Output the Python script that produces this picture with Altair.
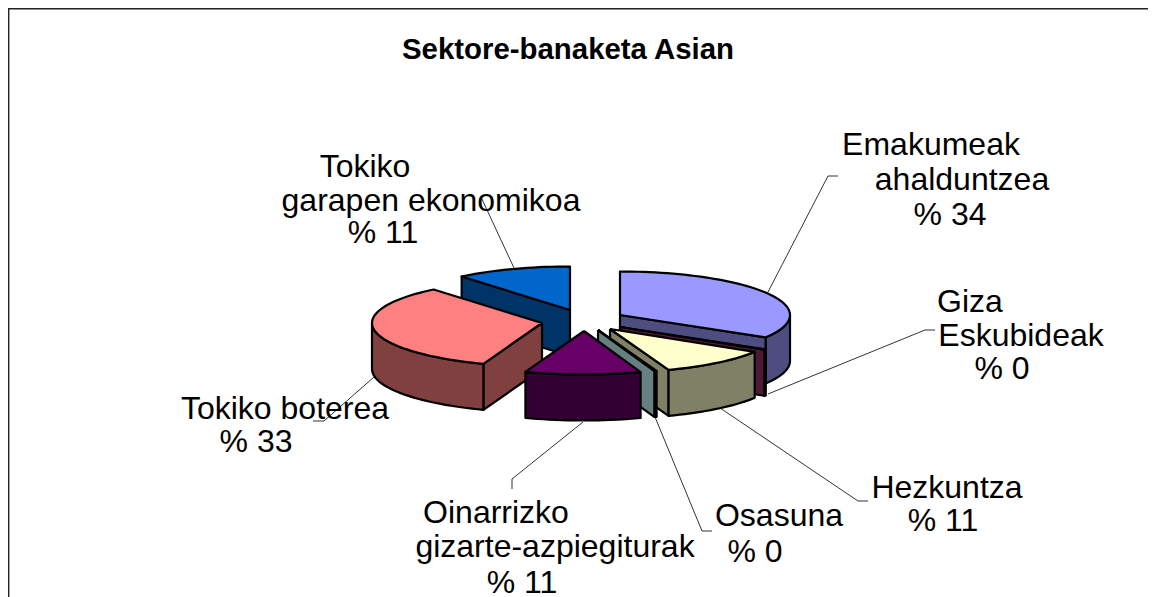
import math
import altair as alt
import pandas as pd

# ---- chart values (share of each sector, drawn clockwise from 12 o'clock, back-to-front order below)
sectors = ["Emakumeak ahalduntzea", "Giza Eskubideak", "Hezkuntza", "Osasuna",
           "Oinarrizko gizarte-azpiegiturak", "Tokiko boterea", "Tokiko garapen ekonomikoa"]
shares = [33.6, 0.2, 10.6, 0.2, 11.0, 33.4, 11.0]
top_colors = ["#9999FF", "#993366", "#FFFFCC", "#CCFFFF", "#660066", "#FF8080", "#0066CC"]
side_colors = ["#4D4D80", "#4D1933", "#808066", "#668080", "#330033", "#804040", "#003366"]

# ---- label texts
label_lines = ["Tokiko", "garapen ekonomikoa", "% 11",
               "Emakumeak", "ahalduntzea", "% 34",
               "Giza", "Eskubideak", "% 0",
               "Hezkuntza", "% 11",
               "Osasuna", "% 0",
               "Oinarrizko", "gizarte-azpiegiturak", "% 11",
               "Tokiko boterea", "% 33"]
label_x = [365, 431, 383, 931, 962, 950, 970, 1021, 1002, 947, 943, 779, 755, 496, 555, 522, 285, 256]
label_y = [177, 211, 243, 155, 190, 225, 312, 346, 379, 498, 531, 526, 562, 523, 557, 593, 419, 452]

title_text = "Sektore-banaketa Asian"

# ---- layout of the exploded pseudo-3D pie (centre of each exploded slice, ellipse radii, wall depth)
apex = [(620, 315), (620, 327), (610, 329), (598, 330), (584, 331), (542, 323), (570, 310)]
RX, RY, DEPTH = 170, 43.5, 46
draw_order = [6, 5, 0, 1, 2, 3, 4]

leaders = [
    [(514, 268), (481, 197)],
    [(768, 292), (828, 176), (838, 176)],
    [(768, 394), (925, 330), (935, 330)],
    [(720, 408), (858, 501), (868, 501)],
    [(655, 417), (702, 531), (712, 531)],
    [(583, 422), (512, 479), (512, 489)],
    [(374, 377), (324, 421), (313, 421)],
]
borders = [[(8, 8.5), (1148, 8.5)], [(8.5, 8), (8.5, 597)]]

XS = alt.Scale(domain=[8, 1148], nice=False, zero=False)
YS = alt.Scale(domain=[8, 597], reverse=True, nice=False, zero=False)


def enc(chart):
    return chart.encode(
        x=alt.X("x:Q", scale=XS, axis=None),
        y=alt.Y("y:Q", scale=YS, axis=None),
        order=alt.Order("i:Q"),
    )


def polyline(points, **mark):
    df = pd.DataFrame({"x": [p[0] for p in points], "y": [p[1] for p in points],
                       "i": list(range(len(points)))})
    return enc(alt.Chart(df).mark_line(**mark))


def rim(cx, cy, deg):
    r = math.radians(deg)
    return (cx + RX * math.sin(r), cy - RY * math.cos(r))


def arc_points(cx, cy, a0, a1, step=2.0):
    n = max(1, int(abs(a1 - a0) / step))
    return [rim(cx, cy, a0 + (a1 - a0) * k / n) for k in range(n + 1)]


def down(points):
    return [(x, y + DEPTH) for x, y in points]


def face(points, color):
    closed = points + [points[0]]
    return polyline(closed, fill=color, stroke="black", strokeWidth=2.2,
                    strokeJoin="round", interpolate="linear")


angles = []
acc = 0.0
total = sum(shares)
for s in shares:
    angles.append((acc, acc + s / total * 360))
    acc += s / total * 360

layers = []
for seg in borders:
    layers.append(polyline(seg, stroke="#222222", strokeWidth=1.8))
for seg in leaders:
    layers.append(polyline(seg, stroke="#333333", strokeWidth=1))

for idx in draw_order:
    cx, cy = apex[idx]
    a0, a1 = angles[idx]
    side = side_colors[idx]
    if 0 < a1 < 180:  # clockwise wall faces the viewer
        wall = [(cx, cy), rim(cx, cy, a1)]
        layers.append(face(wall + down(wall)[::-1], side))
    if 180 < a0 < 360:  # counter-clockwise wall faces the viewer
        wall = [(cx, cy), rim(cx, cy, a0)]
        layers.append(face(wall + down(wall)[::-1], side))
    lo, hi = max(a0, 90), min(a1, 270)
    if lo < hi:
        pts = arc_points(cx, cy, lo, hi)
        layers.append(face(pts + down(pts)[::-1], side))
    layers.append(face([(cx, cy)] + arc_points(cx, cy, a0, a1), top_colors[idx]))

labels = pd.DataFrame({"x": label_x, "y": label_y, "t": label_lines})
layers.append(
    alt.Chart(labels).mark_text(font="Liberation Sans", fontSize=32, align="center",
                                baseline="alphabetic", color="black")
    .encode(x=alt.X("x:Q", scale=XS, axis=None), y=alt.Y("y:Q", scale=YS, axis=None), text="t:N")
)
layers.append(
    alt.Chart(pd.DataFrame({"x": [568], "y": [59], "t": [title_text]}))
    .mark_text(font="Liberation Sans", fontSize=29.4, fontWeight="bold", align="center",
               baseline="alphabetic", color="black")
    .encode(x=alt.X("x:Q", scale=XS, axis=None), y=alt.Y("y:Q", scale=YS, axis=None), text="t:N")
)

chart = (
    alt.layer(*layers)
    .properties(width=1140, height=589, padding=0, background="white",
                autosize=alt.AutoSizeParams(type="none"))
    .configure_view(stroke=None)
)
chart.save("out.html", embed_options={"renderer": "svg", "actions": False})
